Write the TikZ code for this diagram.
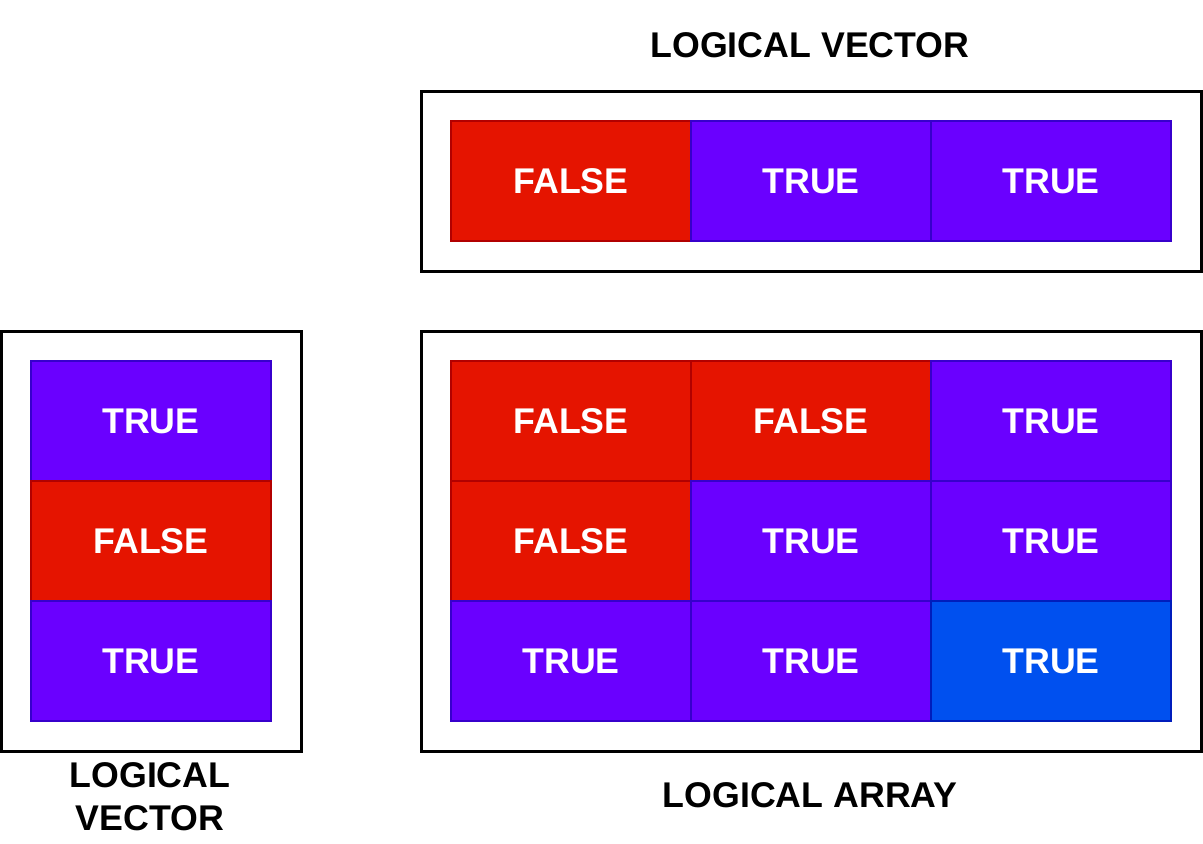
\documentclass[tikz,border=0pt]{standalone}
\usepackage{fontspec}
\setmainfont{Liberation Sans}
\usetikzlibrary{positioning}
\definecolor{falsered}{HTML}{E51400}
\definecolor{falseedge}{HTML}{B20000}
\definecolor{truepurple}{HTML}{6A00FF}
\definecolor{trueedge}{HTML}{3700CC}
\definecolor{trueblue}{HTML}{0050EF}
\definecolor{blueedge}{HTML}{001DBC}

\begin{document}
\begin{tikzpicture}[x=0.75pt, y=-0.75pt,
                    cellnode/.style={rectangle, line width=1.5pt, minimum width=180pt, minimum height=90pt, inner sep=0pt, outer sep=0pt, text=white, font=\bfseries\fontsize{26.8}{32}\selectfont},
                    truenode/.style={cellnode, fill=truepurple, draw=trueedge},
                    falsenode/.style={cellnode, fill=falsered, draw=falseedge},
                    bluenode/.style={cellnode, fill=trueblue, draw=blueedge},
                    framenode/.style={rectangle, draw=black, line width=2.25pt, inner sep=0pt},
                    captionnode/.style={align=center, font=\bfseries\fontsize{26.8}{32}\selectfont},]
    \useasboundingbox (0,0) rectangle (1203,843);
    % frames
    \node[framenode, minimum width=585pt, minimum height=135pt] (vecframe) at (811,181) {};
    \node[framenode, minimum width=225pt, minimum height=315pt] (colframe) at (151,541) {};
    \node[framenode, minimum width=585pt, minimum height=315pt] (arrframe) at (811,541) {};
    % row vector
    \node[falsenode]     (v1)     at (571,181)             {FALSE};
    \node[truenode]      (v2)     [right=0pt of v1]        {TRUE};
    \node[truenode]      (v3)     [right=0pt of v2]        {TRUE};
    % column vector
    \node[truenode]      (c1)     at (151,421)             {TRUE};
    \node[falsenode]     (c2)     [below=0pt of c1]        {FALSE};
    \node[truenode]      (c3)     [below=0pt of c2]        {TRUE};
    % array
    \node[falsenode]     (a11)    at (571,421)             {FALSE};
    \node[falsenode]     (a12)    [right=0pt of a11]       {FALSE};
    \node[truenode]      (a13)    [right=0pt of a12]       {TRUE};
    \node[falsenode]     (a21)    [below=0pt of a11]       {FALSE};
    \node[truenode]      (a22)    [right=0pt of a21]       {TRUE};
    \node[truenode]      (a23)    [right=0pt of a22]       {TRUE};
    \node[truenode]      (a31)    [below=0pt of a21]       {TRUE};
    \node[truenode]      (a32)    [right=0pt of a31]       {TRUE};
    \node[bluenode]      (a33)    [right=0pt of a32]       {TRUE};
    % captions
    \node[captionnode]   (vectitle)  at (810,45)           {LOGICAL VECTOR};
    \node[captionnode]   (coltitle)  at (150,797)          {LOGICAL\\VECTOR};
    \node[captionnode]   (arrtitle)  at (810,795)          {LOGICAL ARRAY};
\end{tikzpicture}
\end{document}
